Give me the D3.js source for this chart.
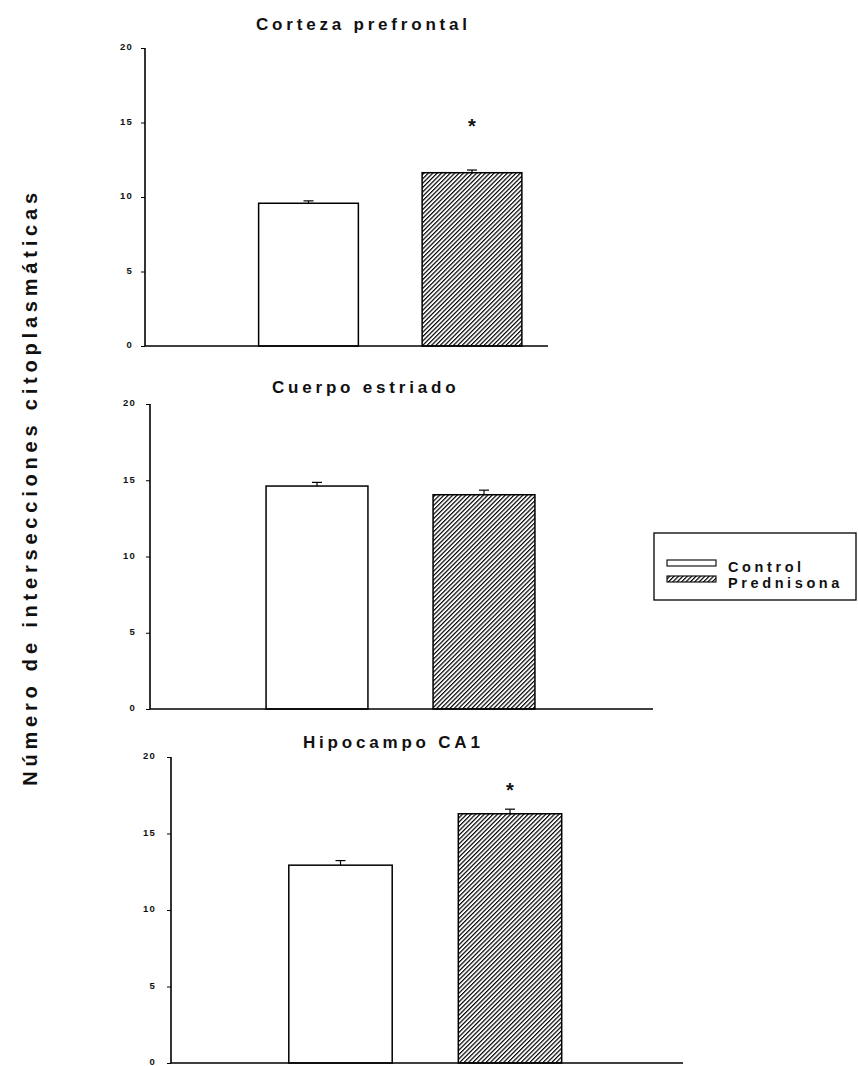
<!DOCTYPE html>
<html>
<head>
<meta charset="utf-8">
<script src="https://cdn.jsdelivr.net/npm/d3@7/dist/d3.min.js"></script>
<style>
  html, body { margin: 0; padding: 0; background: #fff; }
  svg { display: block; font-family: "Liberation Sans", Arial, Helvetica, sans-serif; }
</style>
</head>
<body>
<svg id="chart" width="858" height="1066"></svg>
<script>
// Brain regions, one panel each
const regions = ["Corteza prefrontal", "Cuerpo estriado", "Hipocampo CA1"];
const groups = ["Control", "Prednisona"];

// Mean number of cytoplasmic intersections and standard error per region
const controlMean = [9.58, 14.62, 12.93];
const controlSem = [0.16, 0.24, 0.30];
const prednisonaMean = [11.63, 14.05, 16.29];
const prednisonaSem = [0.18, 0.30, 0.30];

// Regions where the Prednisona group differs significantly
const significant = [true, false, true];

const yTicks = [0, 5, 10, 15, 20];
const yLabel = "Número de intersecciones citoplasmáticas";

// Panel geometry (pixels)
const panelLayout = [
  { axisX: 145, axisEnd: 548, yBottom: 346, yTop: 48, unit: 163.5, titleX: 256, titleY: 30, tickGap: 12, starGap: 37 },
  { axisX: 150, axisEnd: 653, yBottom: 709, yTop: 404, unit: 167, titleX: 272, titleY: 393, tickGap: 14, starGap: 0 },
  { axisX: 171, axisEnd: 683, yBottom: 1063, yTop: 757, unit: 169.5, titleX: 303, titleY: 748, tickGap: 15, starGap: 12 }
];

const svg = d3.select("#chart");

// Diagonal hatch used for the Prednisona bars
const defs = svg.append("defs");
defs.append("pattern")
  .attr("id", "hatch")
  .attr("patternUnits", "userSpaceOnUse")
  .attr("width", 3.1)
  .attr("height", 3.1)
  .attr("patternTransform", "rotate(45)")
  .call(p => {
    p.append("rect").attr("width", 3.1).attr("height", 3.1).attr("fill", "#fff");
    p.append("line").attr("x1", 0.6).attr("y1", 0).attr("x2", 0.6).attr("y2", 3.1)
      .attr("stroke", "#000").attr("stroke-width", 1.2);
  });

const fills = ["#fff", "url(#hatch)"];

regions.forEach((region, i) => {
  const L = panelLayout[i];
  const g = svg.append("g");

  const y = d3.scaleLinear().domain([0, 20]).range([L.yBottom, L.yTop]);
  const x = d3.scaleLinear().domain([0, 3]).range([L.axisX, L.axisX + 3 * L.unit]);
  const barW = 0.61 * L.unit;

  // Title
  g.append("text")
    .attr("x", L.titleX)
    .attr("y", L.titleY)
    .attr("font-size", 17)
    .attr("font-weight", "bold")
    .attr("letter-spacing", 3.8)
    .attr("fill", "#111")
    .text(region);

  // Y axis
  const yAxis = d3.axisLeft(y).tickValues(yTicks).tickSize(4).tickPadding(L.tickGap - 4)
    .tickFormat(d3.format("d"));
  const ya = g.append("g").attr("transform", `translate(${L.axisX},0)`).call(yAxis);
  ya.select(".domain").remove();
  ya.selectAll(".tick line").attr("stroke", "#000").attr("stroke-width", 1);
  ya.selectAll(".tick text")
    .attr("dy", "0.2em")
    .attr("font-size", 9.5)
    .attr("font-weight", "bold")
    .attr("letter-spacing", 1.2)
    .attr("font-family", "'Liberation Sans', Arial, sans-serif")
    .attr("fill", "#111");
  g.append("line")
    .attr("x1", L.axisX).attr("x2", L.axisX)
    .attr("y1", y(20)).attr("y2", y(0))
    .attr("stroke", "#000").attr("stroke-width", 1.6);

  // Bars
  const rows = [
    { group: groups[0], mean: controlMean[i], sem: controlSem[i], pos: 1 },
    { group: groups[1], mean: prednisonaMean[i], sem: prednisonaSem[i], pos: 2 }
  ];

  g.selectAll("rect.bar").data(rows).enter().append("rect")
    .attr("class", "bar")
    .attr("x", d => x(d.pos) - barW / 2)
    .attr("width", barW)
    .attr("y", d => y(d.mean))
    .attr("height", d => y(0) - y(d.mean))
    .attr("fill", (d, k) => fills[k])
    .attr("stroke", "#000")
    .attr("stroke-width", 1.5);

  // Error bars (upper half only)
  const eb = g.selectAll("g.err").data(rows).enter().append("g").attr("class", "err");
  eb.append("line")
    .attr("x1", d => x(d.pos)).attr("x2", d => x(d.pos))
    .attr("y1", d => y(d.mean)).attr("y2", d => y(d.mean + d.sem))
    .attr("stroke", "#000").attr("stroke-width", 1.2);
  eb.append("line")
    .attr("x1", d => x(d.pos) - 5).attr("x2", d => x(d.pos) + 5)
    .attr("y1", d => y(d.mean + d.sem)).attr("y2", d => y(d.mean + d.sem))
    .attr("stroke", "#000").attr("stroke-width", 1.2);

  // Significance marker
  if (significant[i]) {
    g.append("text")
      .attr("x", x(2))
      .attr("y", y(prednisonaMean[i] + prednisonaSem[i]) - L.starGap)
      .attr("text-anchor", "middle")
      .attr("font-size", 20)
      .attr("font-weight", "bold")
      .attr("fill", "#111")
      .text("*");
  }

  // X axis baseline
  g.append("line")
    .attr("x1", L.axisX).attr("x2", L.axisEnd)
    .attr("y1", y(0)).attr("y2", y(0))
    .attr("stroke", "#000").attr("stroke-width", 1.6);
});

// Shared y-axis label
svg.append("text")
  .attr("transform", "translate(37,487) rotate(-90)")
  .attr("text-anchor", "middle")
  .attr("font-size", 20)
  .attr("font-weight", "bold")
  .attr("letter-spacing", 4.8)
  .attr("fill", "#111")
  .text(yLabel);

// Legend
const legend = svg.append("g");
legend.append("rect")
  .attr("x", 654).attr("y", 533).attr("width", 202).attr("height", 67)
  .attr("fill", "#fff").attr("stroke", "#000").attr("stroke-width", 1.3);
const legendRows = legend.selectAll("g.item").data(groups).enter().append("g").attr("class", "item");
legendRows.append("rect")
  .attr("x", 667)
  .attr("y", (d, k) => 560 + k * 16)
  .attr("width", 49)
  .attr("height", 6)
  .attr("fill", (d, k) => fills[k])
  .attr("stroke", "#000")
  .attr("stroke-width", 1.1);
legendRows.append("text")
  .attr("x", 728)
  .attr("y", (d, k) => 572 + k * 16)
  .attr("font-size", 14.5)
  .attr("font-weight", "bold")
  .attr("letter-spacing", 3.6)
  .attr("fill", "#111")
  .text(d => d);
</script>
</body>
</html>
